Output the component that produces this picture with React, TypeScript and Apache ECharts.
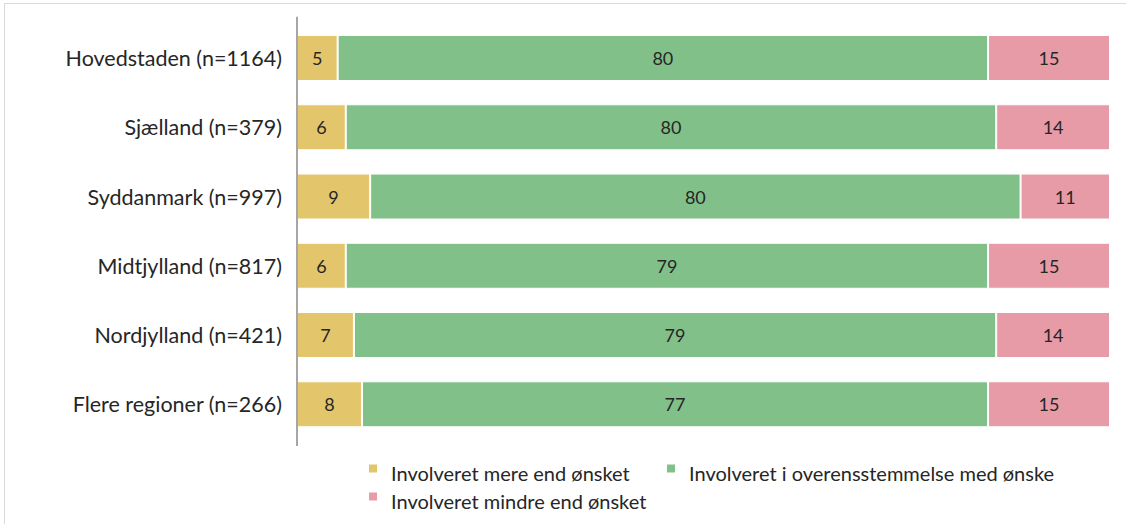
import React, { useEffect, useRef } from "react";
import * as echarts from "echarts";

const categories = [
  "Hovedstaden (n=1164)",
  "Sjælland (n=379)",
  "Syddanmark (n=997)",
  "Midtjylland (n=817)",
  "Nordjylland (n=421)",
  "Flere regioner (n=266)",
];
const seriesNames = [
  "Involveret mere end ønsket",
  "Involveret i overensstemmelse med ønske",
  "Involveret mindre end ønsket",
];
const mere = [5, 6, 9, 6, 7, 8];
const overens = [80, 80, 80, 79, 79, 77];
const mindre = [15, 14, 11, 15, 14, 15];
const colors = ["#E3C66B", "#82C08A", "#E69BA6"];

const FONT = "Lato, 'Open Sans', sans-serif";
const TXT = "#262626";
// square in the upper part of a taller icon box so the text sits slightly lower than the marker
const LEGEND_ICON = "path://M0,0L10,0L10,10L0,10Z M0,19L10,19";

export default function App() {
  const ref = useRef<HTMLDivElement>(null);
  useEffect(() => {
    if (!ref.current) return;
    const chart = echarts.init(ref.current, null, { renderer: "svg" });
    const values = [mere, overens, mindre];
    const mkLegend = (name: string, left: number, top: number) => ({
      data: [name],
      left,
      top,
      padding: 0,
      icon: LEGEND_ICON,
      itemWidth: 10,
      itemHeight: 19,
      itemGap: 6,
      textStyle: {
        fontFamily: FONT,
        fontSize: 20,
        color: TXT,
        padding: [0, 0, 0, 8],
      },
      selectedMode: false,
    });
    chart.setOption({
      animation: false,
      textStyle: { fontFamily: FONT },
      grid: { left: 297, right: 16, top: 23.4, height: 415.5, containLabel: false },
      xAxis: { type: "value", min: 0, max: 100, show: false },
      yAxis: {
        type: "category",
        data: categories,
        inverse: true,
        axisLine: { show: false },
        axisTick: { show: false },
        axisLabel: { fontFamily: FONT, fontSize: 21.5, color: TXT, margin: 15 },
      },
      legend: [
        mkLegend(seriesNames[0], 367, 462.5),
        mkLegend(seriesNames[1], 665, 462.5),
        mkLegend(seriesNames[2], 367, 490.5),
      ],
      graphic: [
        {
          type: "rect",
          shape: { x: 4.5, y: 3.5, width: 1140, height: 540 },
          style: { fill: "none", stroke: "#D9D9D9", lineWidth: 1 },
          silent: true,
        },
        {
          type: "line",
          shape: { x1: 297, y1: 16.7, x2: 297, y2: 446 },
          style: { stroke: "#A6A6A6", lineWidth: 2 },
          silent: true,
          z: 10,
        },
      ],
      series: seriesNames.map((name, i) => ({
        name,
        type: "bar",
        stack: "total",
        barWidth: 46,
        data: values[i],
        itemStyle: { color: colors[i], borderColor: "#FFFFFF", borderWidth: 1 },
        label: {
          show: true,
          position: "inside",
          fontFamily: FONT,
          fontSize: 18,
          color: TXT,
        },
      })),
    });
    return () => chart.dispose();
  }, []);
  return (
    <div
      ref={ref}
      style={{ position: "fixed", left: 0, top: 0, width: 1126, height: 524, background: "#fff" }}
    />
  );
}
